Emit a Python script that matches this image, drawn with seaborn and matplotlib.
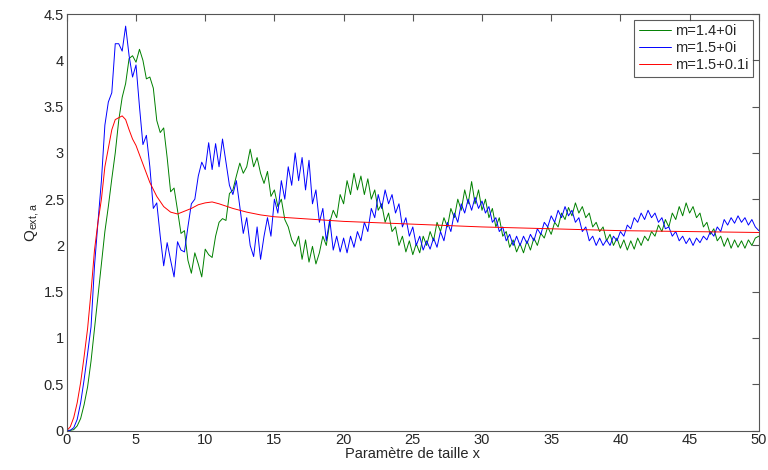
import numpy as np
import pandas as pd
import seaborn as sns
import matplotlib
matplotlib.use("Agg")
import matplotlib.pyplot as plt
from matplotlib.ticker import FuncFormatter

# Efficacite d'extinction lue sur le graphe, pas de 0.25 en x
x_step = 0.25
green_q = [  # m=1.4+0i
    0, 0.001, 0.01, 0.05,
    0.13, 0.28, 0.47, 0.75,
    1.1, 1.45, 1.8, 2.15,
    2.42, 2.72, 3.0, 3.35,
    3.6, 3.75, 4.02, 4.05,
    3.98, 4.12, 4.0, 3.8,
    3.82, 3.7, 3.35, 3.22,
    3.27, 2.95, 2.58, 2.62,
    2.38, 2.13, 2.16, 1.84,
    1.7, 1.92, 1.8, 1.66,
    1.96, 1.9, 1.87, 2.1,
    2.25, 2.29, 2.27, 2.56,
    2.6, 2.75, 2.89, 2.78,
    2.85, 3.04, 2.85, 2.95,
    2.78, 2.67, 2.8, 2.53,
    2.6, 2.42, 2.5, 2.28,
    2.2, 2.06, 1.99, 2.1,
    1.85, 2.06, 1.82, 1.99,
    1.8, 1.92, 2.1, 2.0,
    2.25, 2.38, 2.3, 2.55,
    2.45, 2.7, 2.55, 2.78,
    2.6, 2.75, 2.55, 2.72,
    2.5, 2.6, 2.38, 2.45,
    2.25, 2.35, 2.15, 2.2,
    2.0, 2.1, 1.93, 2.05,
    1.9, 2.02, 1.92, 2.1,
    2.0, 2.15, 2.05, 2.25,
    2.15, 2.3, 2.2, 2.4,
    2.3, 2.5, 2.38, 2.6,
    2.45, 2.69, 2.45, 2.6,
    2.38, 2.5, 2.3, 2.4,
    2.2, 2.3, 2.1, 2.15,
    1.98, 2.06, 1.93, 2.02,
    1.92, 2.05, 1.95, 2.08,
    2.0, 2.13, 2.08, 2.2,
    2.12, 2.25, 2.2, 2.35,
    2.28, 2.41, 2.32, 2.46,
    2.35, 2.42, 2.3, 2.35,
    2.2, 2.25, 2.15, 2.2,
    2.05, 2.12, 2.0, 2.08,
    1.97, 2.06, 1.95, 2.05,
    1.96, 2.08, 2.0, 2.1,
    2.05, 2.15, 2.1, 2.22,
    2.15, 2.28, 2.2, 2.35,
    2.28, 2.42, 2.32, 2.46,
    2.35, 2.42, 2.3, 2.35,
    2.2, 2.25, 2.12, 2.18,
    2.05, 2.1, 1.99, 2.08,
    1.97, 2.06, 1.98, 2.05,
    1.97, 2.06, 2.0, 2.08,
    2.1,
]
blue_q = [  # m=1.5+0i
    0, 0.003, 0.03, 0.12,
    0.3, 0.55, 0.83, 1.12,
    1.78, 2.25, 2.7, 3.3,
    3.55, 3.65, 4.18, 4.18,
    4.1, 4.37, 4.05, 3.82,
    3.95, 3.5, 3.09, 3.19,
    2.85, 2.4, 2.46, 2.1,
    1.78, 2.03, 1.84, 1.66,
    2.04, 1.95, 1.93, 2.2,
    2.45, 2.5, 2.75, 2.9,
    2.82, 3.11, 2.82, 3.1,
    2.85, 3.15, 2.9, 2.65,
    2.55, 2.7, 2.42, 2.13,
    2.3, 2.0, 1.88, 2.2,
    1.85, 2.1, 2.3, 2.1,
    2.5, 2.35, 2.7, 2.5,
    2.85, 2.65, 3.0, 2.7,
    2.95, 2.6, 2.92, 2.45,
    2.6, 2.25, 2.4, 2.05,
    2.28, 1.95, 2.1, 1.93,
    2.08, 1.92, 2.1, 1.98,
    2.15, 2.05, 2.25, 2.15,
    2.4, 2.3, 2.55, 2.4,
    2.6, 2.45, 2.55, 2.35,
    2.45, 2.2, 2.3, 2.1,
    2.2, 2.0, 2.1, 1.95,
    2.05, 1.96, 2.08, 1.98,
    2.15, 2.05, 2.25, 2.15,
    2.35, 2.25, 2.45, 2.35,
    2.5, 2.38, 2.52, 2.4,
    2.48, 2.35, 2.42, 2.25,
    2.3, 2.15, 2.2, 2.05,
    2.12, 2.0, 2.1, 2.0,
    2.1, 2.02, 2.12, 2.05,
    2.18, 2.12, 2.25, 2.2,
    2.32, 2.25, 2.38, 2.3,
    2.42, 2.32, 2.38, 2.25,
    2.3, 2.15, 2.2, 2.05,
    2.1, 2.0, 2.08, 2.0,
    2.06, 2.0, 2.1, 2.05,
    2.15, 2.1, 2.22, 2.18,
    2.3, 2.25, 2.35, 2.28,
    2.38, 2.3, 2.35, 2.25,
    2.3, 2.18, 2.2, 2.1,
    2.15, 2.05, 2.1, 2.02,
    2.08, 2.0, 2.08, 2.03,
    2.1, 2.06, 2.15, 2.1,
    2.2, 2.15, 2.28, 2.22,
    2.3, 2.24, 2.32, 2.25,
    2.3, 2.22, 2.28, 2.2,
    2.16,
]
# m=1.5+0.1i : courbe lisse, moins de points
red_x = [0, 0.25, 0.5, 0.75, 1, 1.25, 1.5, 1.75, 2, 2.25, 2.5, 2.75, 3, 3.25,
         3.5, 3.75, 4, 4.25, 4.5, 4.75, 5, 5.25, 5.5, 5.75, 6, 6.5, 7, 7.5, 8,
         8.5, 9, 9.5, 10, 10.5, 11, 12, 13, 14, 15, 17, 20, 25, 30, 35, 40, 45, 50]
red_q = [0, 0.04, 0.14, 0.3, 0.52, 0.8, 1.1, 1.5, 1.95, 2.25, 2.5, 2.85, 3.05, 3.25,
         3.36, 3.38, 3.40, 3.36, 3.25, 3.15, 3.08, 2.98, 2.88, 2.78, 2.68, 2.53, 2.42,
         2.36, 2.34, 2.37, 2.40, 2.44, 2.46, 2.47, 2.45, 2.40, 2.36, 2.33, 2.31, 2.29,
         2.26, 2.23, 2.20, 2.18, 2.16, 2.15, 2.14]
labels = ["m=1.4+0i", "m=1.5+0i", "m=1.5+0.1i"]
colors = ["#008000", "#0000ff", "#ff0000"]

x_grid = np.arange(len(green_q)) * x_step
df = pd.concat([
    pd.DataFrame({"x": x_grid, "Q": green_q, "serie": labels[0]}),
    pd.DataFrame({"x": x_grid, "Q": blue_q, "serie": labels[1]}),
    pd.DataFrame({"x": red_x, "Q": red_q, "serie": labels[2]}),
])

sns.set_style("white")
plt.rcParams["font.family"] = ["Liberation Sans", "DejaVu Sans"]
plt.rcParams["mathtext.default"] = "regular"

fig = plt.figure(figsize=(7.68, 4.70), dpi=100)
ax = fig.add_axes([0.087, 0.084, 0.901, 0.886])

sns.lineplot(data=df, x="x", y="Q", hue="serie", palette=colors,
             linewidth=0.7, ax=ax, sort=False, estimator=None)

ax.set_xlim(0, 50)
ax.set_ylim(0, 4.5)
ax.set_xticks(np.arange(0, 51, 5))
ax.set_yticks(np.arange(0, 4.51, 0.5))
ax.yaxis.set_major_formatter(FuncFormatter(lambda v, p: "%g" % v))
ax.tick_params(direction="in", length=5, width=0.8, color="#555555",
               labelsize=10.5, top=True, right=True, pad=2)
for s in ax.spines.values():
    s.set_color("#555555")
    s.set_linewidth(0.8)

ax.set_xlabel("Paramètre de taille x", fontsize=10.5, labelpad=0)
ax.set_ylabel(r"$Q_{ext,a}$", fontsize=11, labelpad=2)

leg = ax.legend(loc="upper right", fontsize=10.5, frameon=True, fancybox=False,
                borderpad=0.3, labelspacing=0.2, handlelength=2.2, handletextpad=0.3,
                borderaxespad=0.4)
leg.get_frame().set_edgecolor("#333333")
leg.get_frame().set_linewidth(0.8)

fig.savefig("out.png", dpi=100)
